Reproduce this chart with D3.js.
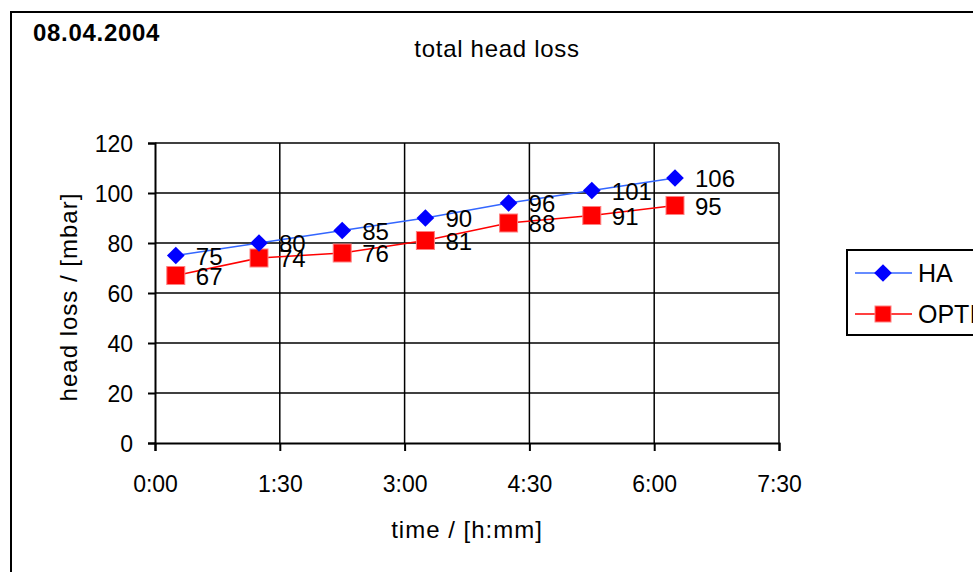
<!DOCTYPE html>
<html>
<head>
<meta charset="utf-8">
<script src="https://cdn.jsdelivr.net/npm/d3@7"></script>
<style>
  html, body { margin: 0; padding: 0; background: #fff; }
  svg { display: block; font-family: "Liberation Sans", Arial, sans-serif; }
</style>
</head>
<body>
<svg id="chart" width="973" height="572"></svg>
<script>
// measurement times in minutes after start
const times = [15, 75, 135, 195, 255, 315, 375];
const haValues = [75, 80, 85, 90, 96, 101, 106];
const optiValues = [67, 74, 76, 81, 88, 91, 95];
const seriesNames = ["HA", "OPTI"];
const xTicks = [0, 90, 180, 270, 360, 450];
const yTicks = [0, 20, 40, 60, 80, 100, 120];

const svg = d3.select("#chart");
const FONT = "Liberation Sans, Arial, sans-serif";

// outer chart frame
svg.append("rect")
  .attr("x", 11).attr("y", 12).attr("width", 1000).attr("height", 600)
  .attr("fill", "#fff").attr("stroke", "#000").attr("stroke-width", 2);

svg.append("text").attr("x", 33).attr("y", 41)
  .attr("font-size", 24).attr("font-weight", "bold").attr("letter-spacing", 0.7)
  .text("08.04.2004");

svg.append("text").attr("x", 497).attr("y", 57).attr("text-anchor", "middle")
  .attr("font-size", 24).attr("letter-spacing", 0.7).text("total head loss");

const x = d3.scaleLinear().domain([0, 450]).range([155, 779]);
const y = d3.scaleLinear().domain([0, 120]).range([443, 143]);

const fmt = m => Math.floor(m / 60) + ":" + String(m % 60).padStart(2, "0");

// grid
svg.append("g").selectAll("line").data(yTicks.filter(d => d > 0)).join("line")
  .attr("x1", x(0)).attr("x2", x(450)).attr("y1", d => y(d)).attr("y2", d => y(d))
  .attr("stroke", "#000").attr("stroke-width", 1.5);
svg.append("g").selectAll("line").data(xTicks.filter(d => d > 0)).join("line")
  .attr("x1", d => x(d)).attr("x2", d => x(d)).attr("y1", y(0)).attr("y2", y(120))
  .attr("stroke", "#000").attr("stroke-width", 1.5);

// axes
const yAxis = svg.append("g").attr("transform", `translate(${x(0)},0)`)
  .call(d3.axisLeft(y).tickValues(yTicks).tickSize(7).tickPadding(15));
const xAxis = svg.append("g").attr("transform", `translate(0,${y(0)})`)
  .call(d3.axisBottom(x).tickValues(xTicks).tickFormat(fmt).tickSize(8).tickPadding(25));
[yAxis, xAxis].forEach(a => {
  a.select(".domain").attr("stroke", "#000").attr("stroke-width", 2);
  a.selectAll(".tick line").attr("stroke", "#000").attr("stroke-width", 2);
  a.selectAll(".tick text").attr("font-size", 23).attr("fill", "#000")
    .attr("font-family", FONT);
});
yAxis.selectAll(".tick text").attr("dy", "0.35em");

svg.append("text").attr("transform", "translate(77,297) rotate(-90)")
  .attr("text-anchor", "middle").attr("font-size", 24).attr("letter-spacing", 1)
  .text("head loss / [mbar]");
svg.append("text").attr("x", 467).attr("y", 538).attr("text-anchor", "middle")
  .attr("font-size", 24).attr("letter-spacing", 1).text("time / [h:mm]");

const line = d3.line().x(d => x(d[0])).y(d => y(d[1]));
const haData = times.map((t, i) => [t, haValues[i]]);
const optiData = times.map((t, i) => [t, optiValues[i]]);

const diamond = d3.symbol().type(d3.symbolDiamond2).size(200);

function drawSeries(data, lineColor, draw) {
  svg.append("path").datum(data).attr("d", line)
    .attr("fill", "none").attr("stroke", lineColor).attr("stroke-width", 1.5);
  const g = svg.append("g");
  data.forEach(d => draw(g, x(d[0]), y(d[1])));
}

drawSeries(optiData, "#ff0000", (g, px, py) =>
  g.append("rect").attr("x", px - 9).attr("y", py - 9).attr("width", 18).attr("height", 18)
    .attr("fill", "#ff0000").attr("stroke", "#ff8080").attr("stroke-width", 1));
drawSeries(haData, "#3366ff", (g, px, py) =>
  g.append("path").attr("d", diamond).attr("transform", `translate(${px},${py})`)
    .attr("fill", "#0000ff"));

// value labels
[haData, optiData].forEach(data => {
  svg.append("g").selectAll("text").data(data).join("text")
    .attr("x", d => x(d[0]) + 20).attr("y", d => y(d[1]) + 9)
    .attr("font-size", 24).text(d => d[1]);
});

// legend
const lg = svg.append("g");
lg.append("rect").attr("x", 847).attr("y", 250).attr("width", 200).attr("height", 85)
  .attr("fill", "#fff").attr("stroke", "#000").attr("stroke-width", 2);
const legendItems = [
  { name: seriesNames[0], color: "#3366ff", y: 273 },
  { name: seriesNames[1], color: "#ff0000", y: 314 }
];
legendItems.forEach((it, i) => {
  lg.append("line").attr("x1", 855).attr("x2", 912).attr("y1", it.y).attr("y2", it.y)
    .attr("stroke", it.color).attr("stroke-width", 1.5);
  if (i === 0) {
    lg.append("path").attr("d", diamond).attr("transform", `translate(883,${it.y})`).attr("fill", "#0000ff");
  } else {
    lg.append("rect").attr("x", 883 - 8).attr("y", it.y - 8).attr("width", 16).attr("height", 16)
      .attr("fill", "#ff0000").attr("stroke", "#ff8080").attr("stroke-width", 1);
  }
  lg.append("text").attr("x", 918).attr("y", it.y + 9).attr("font-size", 25).text(it.name);
});
</script>
</body>
</html>
